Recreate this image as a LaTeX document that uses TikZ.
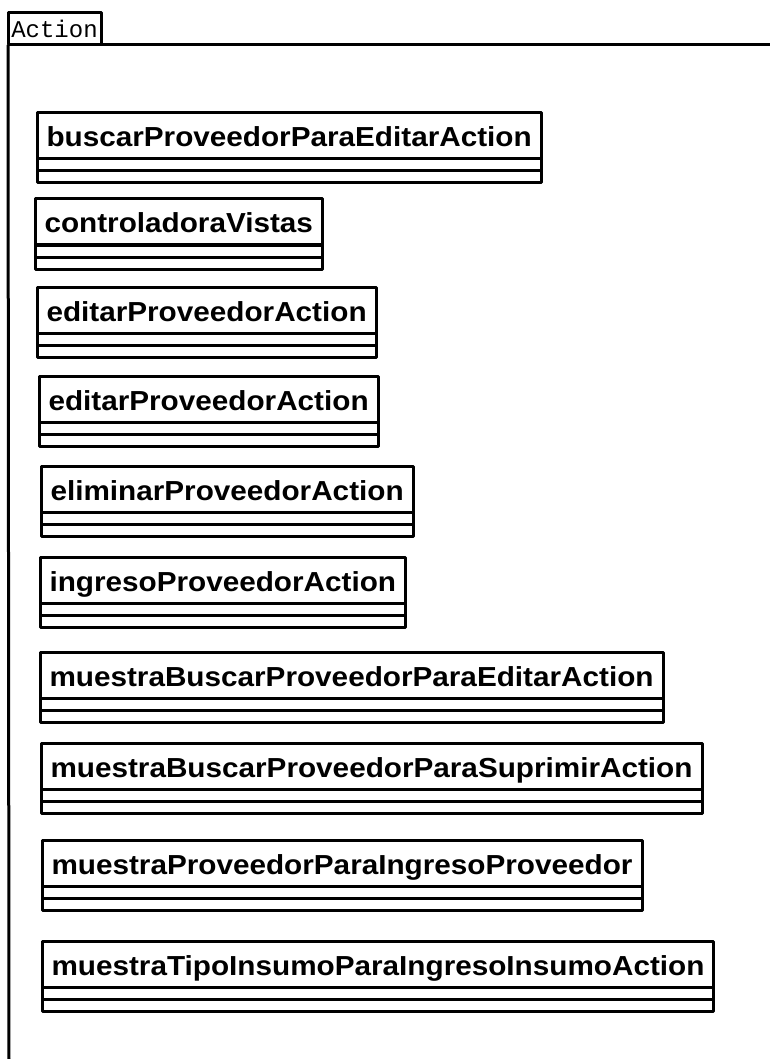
\documentclass[tikz,border=0pt]{standalone}
\usepackage{fontspec}
\newfontfamily\umlfont[FakeStretch=1.08]{Liberation Sans}
\newfontfamily\tabfont{Liberation Mono}
\usetikzlibrary{calc, positioning}

\tikzset{
  umlline/.style={line width=3pt, line join=round},
  classname/.style={draw, umlline, anchor=north west, outer sep=0pt,
    inner xsep=9.5pt, inner ysep=9pt, text height=25pt, text depth=3pt,
    font=\umlfont\bfseries\fontsize{27.5}{30}\selectfont},
}

\begin{document}
\begin{tikzpicture}[x=1pt, y=-1pt]
\useasboundingbox (0,0) rectangle (770,1059);

% package frame
\node[draw, umlline, anchor=north west, outer sep=0pt, minimum width=93pt,
  minimum height=32pt, inner sep=0pt,
  font=\tabfont\fontsize{24}{24}\selectfont] (tab) at (8,13) {Action};
\coordinate (frameR) at (770,45);
\coordinate (frameB) at (9,1059);
\draw[umlline] (tab.south east) -- (frameR);
\draw[umlline] (tab.south west) -- (frameB);

% classes
\node[classname] (buscarEditar) at (37,113) {buscarProveedorParaEditarAction};
\node[classname] (controladora) at (35,199) {controladoraVistas};
\node[classname] (editarA) at (37,287) {editarProveedorAction};
\node[classname] (editarB) at (39,376) {editarProveedorAction};
\node[classname] (eliminar) at (41,466) {eliminarProveedorAction};
\node[classname] (ingreso) at (40,557) {ingresoProveedorAction};
\node[classname] (muestraEditar) at (40,652) {muestraBuscarProveedorParaEditarAction};
\node[classname] (muestraSuprimir) at (41,743) {muestraBuscarProveedorParaSuprimirAction};
\node[classname] (muestraIngreso) at (42,840) {muestraProveedorParaIngresoProveedor};
\node[classname] (muestraTipo) at (42,941) {muestraTipoInsumoParaIngresoInsumoAction};

% attribute and operation compartments
\foreach \c in {buscarEditar, controladora, editarA, editarB, eliminar, ingreso,
  muestraEditar, muestraSuprimir, muestraIngreso, muestraTipo} {
  \draw[umlline] (\c.south west) rectangle ($(\c.south east)+(0,12)$);
  \draw[umlline] ($(\c.south west)+(0,12)$) rectangle ($(\c.south east)+(0,24)$);
}
\end{tikzpicture}
\end{document}
